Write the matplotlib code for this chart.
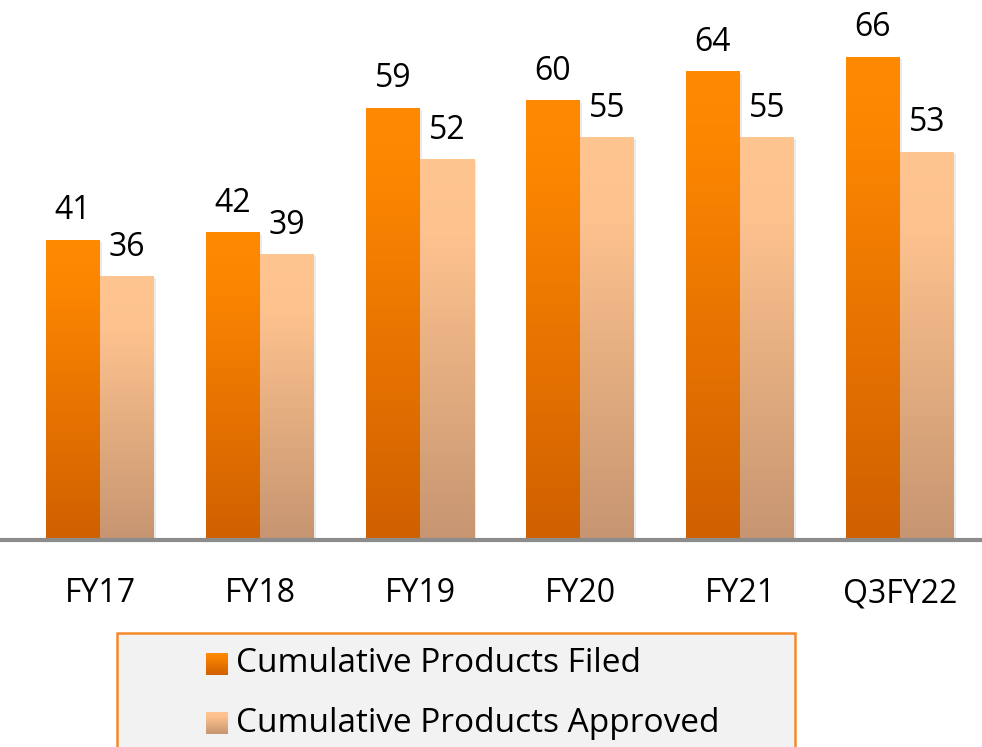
import matplotlib
matplotlib.use("Agg")
import matplotlib.pyplot as plt
import numpy as np
from matplotlib.colors import LinearSegmentedColormap
from matplotlib.patches import Rectangle

categories = ["FY17", "FY18", "FY19", "FY20", "FY21", "Q3FY22"]
filed = [41, 42, 59, 60, 64, 66]
approved = [36, 39, 52, 55, 55, 53]
series_names = ["Cumulative Products Filed", "Cumulative Products Approved"]

plt.rcParams['font.family'] = ['Open Sans', 'DejaVu Sans']

# gradients go from top of bar (0) to bottom (1)
cmap_filed = LinearSegmentedColormap.from_list(
    "filed", [(0, "#FF8A00"), (0.15, "#FD8600"), (1, "#D06000")])
cmap_appr = LinearSegmentedColormap.from_list(
    "appr", [(0, "#FFC591"), (0.2, "#FDC28E"), (1, "#C69571")])

fig = plt.figure(figsize=(9.82, 7.47), dpi=100)
ax = fig.add_axes([0, 207 / 747, 1, 540 / 747])

width = 0.3375
x = np.arange(len(categories))
grad = np.linspace(0, 1, 256).reshape(-1, 1)
px_per_unit = 7.317


def gradient_bars(xs, vals, cmap):
    for xc, v in zip(xs, vals):
        # soft shadow
        ax.add_patch(Rectangle((xc - width / 2 + 0.012, 0), width, v - 0.25,
                               color="#000000", alpha=0.08, lw=0, zorder=1))
        ax.imshow(grad, cmap=cmap, aspect="auto", zorder=2,
                  extent=(xc - width / 2, xc + width / 2, 0, v))
        ax.text(xc, v + 21 / px_per_unit, str(v), ha="center", va="baseline",
                fontsize=23, color="#000000")


gradient_bars(x - width / 2, filed, cmap_filed)
gradient_bars(x + width / 2, approved, cmap_appr)

ax.set_xlim(-100 / 160, (982 - 100) / 160)
ax.set_ylim(0, 540 / px_per_unit)
ax.axhline(0, color="#8C8C8C", lw=3, zorder=3, clip_on=False)
for s in ax.spines.values():
    s.set_visible(False)
ax.set_yticks([])
ax.set_xticks(x)
ax.set_xticklabels(categories, fontsize=23)
ax.tick_params(axis="x", length=0, pad=27)

# legend box
fig.patches.append(Rectangle((117 / 982, -0.05), (795 - 117) / 982, (747 - 633) / 747 + 0.05,
                             transform=fig.transFigure, facecolor="#F2F2F2",
                             edgecolor="#F58A2A", lw=1.8, zorder=-1))
leg_y = [664, 723]
for name, cmap, yy in zip(series_names, [cmap_filed, cmap_appr], leg_y):
    sq = fig.add_axes([206 / 982, (747 - yy - 11) / 747, 22 / 982, 22 / 747])
    sq.imshow(grad, cmap=cmap, aspect="auto")
    sq.set_axis_off()
    fig.text(236 / 982, (747 - yy) / 747, name, ha="left", va="center",
             fontsize=24, color="#000000")

fig.savefig("out.png", dpi=100)
